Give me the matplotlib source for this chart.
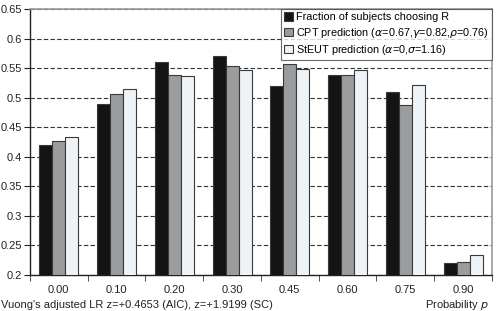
import numpy as np
import matplotlib
matplotlib.use("Agg")
import matplotlib.pyplot as plt

plt.rcParams['font.family'] = ['Liberation Sans', 'DejaVu Sans']

# data
prob_labels = ["0.00", "0.10", "0.20", "0.30", "0.45", "0.60", "0.75", "0.90"]
observed = [0.420, 0.490, 0.560, 0.570, 0.520, 0.539, 0.510, 0.221]
cpt_pred = [0.426, 0.506, 0.539, 0.554, 0.557, 0.539, 0.487, 0.222]
steut_pred = [0.434, 0.514, 0.536, 0.546, 0.549, 0.546, 0.521, 0.233]

series_names = ["Fraction of subjects choosing R",
                r"CPT prediction ($\alpha$=0.67,$\gamma$=0.82,$\rho$=0.76)",
                r"StEUT prediction ($\alpha$=0,$\sigma$=1.16)"]
colors = ["#141414", "#9a9c9e", "#edf3f7"]

fig = plt.figure(figsize=(4.96, 3.11), dpi=100)
ax = fig.add_axes([0.06, 0.116, 0.932, 0.855])

x = np.arange(len(prob_labels))
w = 0.225
for i, (vals, name, col) in enumerate(zip([observed, cpt_pred, steut_pred], series_names, colors)):
    ax.bar(x + (i - 1) * w, vals, width=w, color=col, edgecolor="#3a3a3a",
           linewidth=0.8, label=name, zorder=3)

ax.set_ylim(0.2, 0.65)
ax.set_xlim(-0.5, len(prob_labels) - 0.5)
ax.set_yticks(np.arange(0.2, 0.651, 0.05))
ax.set_yticklabels(["0.2", "0.25", "0.3", "0.35", "0.4", "0.45", "0.5", "0.55", "0.6", "0.65"])
ax.yaxis.grid(True, linestyle=(0, (4, 2)), color="#333333", linewidth=0.8, zorder=0)

# category labels centered, ticks at boundaries
ax.set_xticks(x)
ax.set_xticklabels(prob_labels)
ax.tick_params(axis='x', length=0, pad=7, labelsize=8, colors="#222222")
ax.set_xticks(np.arange(-0.5, len(prob_labels)), minor=True)
ax.tick_params(axis='x', which='minor', length=4, direction='out', color="#333333")
ax.tick_params(axis='y', length=4, direction='out', labelsize=8, colors="#222222", pad=1.5)

for s in ["left", "bottom"]:
    ax.spines[s].set_color("#222222")
    ax.spines[s].set_linewidth(1.0)
for s in ["top", "right"]:
    ax.spines[s].set_color("#999999")
    ax.spines[s].set_linewidth(1.2)

leg = ax.legend(loc="upper right", fontsize=7.8, frameon=True, fancybox=False,
                edgecolor="#444444", handlelength=0.8, handleheight=0.8,
                handletextpad=0.3, borderpad=0.3, labelspacing=0.3,
                borderaxespad=0.0)
leg.get_frame().set_linewidth(0.8)

fig.text(0.002, 0.02, "Vuong's adjusted LR z=+0.4653 (AIC), z=+1.9199 (SC)",
         fontsize=8, color="#222222", ha="left", va="center")
fig.text(0.985, 0.02, "Probability $p$", fontsize=8, color="#222222",
         ha="right", va="center")

fig.savefig("out.png", dpi=100)
